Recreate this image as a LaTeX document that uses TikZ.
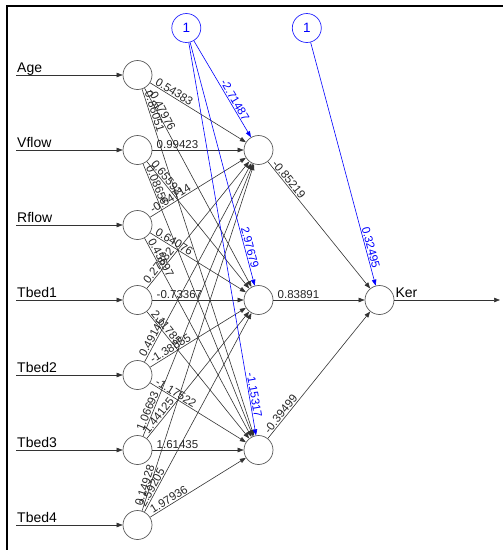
\documentclass[tikz,border=0pt]{standalone}
\usepackage{fontspec}
\setmainfont{Liberation Sans}
\usetikzlibrary{arrows.meta,calc}

\begin{document}
\begin{tikzpicture}[x=1pt, y=-1pt,
    neuron/.style={circle, draw=black!65, line width=0.7pt, minimum size=29pt, inner sep=0pt},
    biasunit/.style={neuron, draw=blue!85, text=blue, font=\fontsize{13.5}{14}\selectfont},
    wire/.style={draw=black!80, line width=0.6pt, -{Triangle[length=6pt, width=4.5pt]}},
    biaswire/.style={wire, draw=blue},
    wlabel/.style={sloped, anchor=south west, inner sep=1pt, font=\fontsize{11.5}{12}\selectfont, text=black!85},
    bwlabel/.style={wlabel, anchor=south east, text=blue},
    varname/.style={anchor=base west, inner sep=1pt, font=\fontsize{14}{15}\selectfont}]
    \useasboundingbox (0,0) rectangle (503,550);
    \draw[line width=2pt] (7,553) -- (7,6.3) -- (506,6.3);

    % input layer
    \foreach \lbl [count=\i] in {Age,Vflow,Rflow,Tbed1,Tbed2,Tbed3,Tbed4} {
        \path (137.5,75*\i) node[neuron](in\i){}
            (16,75*\i) coordinate(src\i) node[varname, yshift=3pt]{\lbl};
        \draw[wire] (src\i) -- (in\i);
    }
    % hidden layer, output and the bias units
    \path (258.5,150) node[neuron](h1){} (258.5,300) node[neuron](h2){}
        (258.5,450) node[neuron](h3){} (379.5,300) node[neuron](out){}
        (186.3,28) node[biasunit](b1){1} (306.8,28) node[biasunit](b2){1}
        (500,300) coordinate(ker);

    \foreach \s/\t/\w in {1/1/0.54383, 1/2/-0.47976, 1/3/0.86051,
        2/1/0.99423, 2/2/0.65593, 2/3/0.08656,
        3/1/-0.54714, 3/2/0.64076, 3/3/0.45697,
        4/1/0.27882, 4/2/-0.73367, 4/3/2.11785,
        5/1/0.49145, 5/2/-1.38855, 5/3/-1.17522,
        6/1/1.06693, 6/2/1.44125, 6/3/1.61435,
        7/1/0.14928, 7/2/2.59205, 7/3/1.97936} {
        \draw[wire] (in\s) -- (h\t);
        \path ($(in\s)!18pt!(h\t)$) -- node[wlabel, pos=0]{\w} (h\t);
    }
    \foreach \t/\w in {1/-0.85219, 2/0.83891, 3/-0.39499} {
        \draw[wire] (h\t) -- (out);
        \path ($(h\t)!18pt!(out)$) -- node[wlabel, pos=0]{\w} (out);
    }

    % bias weights, labelled near the arrow
    \foreach \t/\w in {1/-2.71487, 2/2.97679, 3/-1.15317} {
        \draw[biaswire] (b1) -- (h\t);
        \path (b1) -- node[bwlabel, pos=1]{\w} ($(h\t)!31pt!(b1)$);
    }
    \draw[biaswire] (b2) -- (out);
    \path (b2) -- node[bwlabel, pos=1]{0.32495} ($(out)!31pt!(b2)$);

    \draw[wire] (out) -- (ker);
    \node[varname, yshift=2.5pt] at (out.east) {Ker};
\end{tikzpicture}
\end{document}
